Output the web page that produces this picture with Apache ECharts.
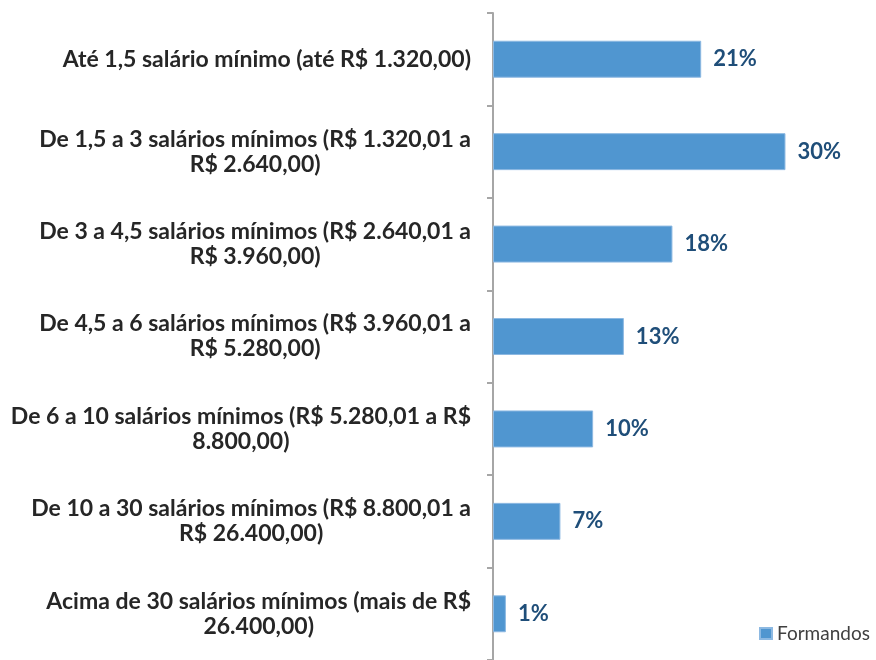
<!DOCTYPE html>
<html><head><meta charset="utf-8">
<script src="https://cdn.jsdelivr.net/npm/echarts@6/dist/echarts.min.js"></script>
<style>html,body{margin:0;padding:0;background:#fff}#c{width:876px;height:660px}</style>
</head><body><div id="c"></div>
<script>
const categoryLines = [
  ['Até 1,5 salário mínimo (até R$ 1.320,00)'],
  ['De 1,5 a 3 salários mínimos (R$ 1.320,01 a', 'R$ 2.640,00)'],
  ['De 3 a 4,5 salários mínimos (R$ 2.640,01 a', 'R$ 3.960,00)'],
  ['De 4,5 a 6 salários mínimos (R$ 3.960,01 a', 'R$ 5.280,00)'],
  ['De 6 a 10 salários mínimos (R$ 5.280,01 a R$', '8.800,00)'],
  ['De 10 a 30 salários mínimos (R$ 8.800,01 a', 'R$ 26.400,00)'],
  ['Acima de 30 salários mínimos (mais de R$', '26.400,00)']
];
const seriesName = 'Formandos';
const values = [21.0, 29.5, 18.1, 13.2, 10.1, 6.8, 1.3];
const valueLabels = ['21%', '30%', '18%', '13%', '10%', '7%', '1%'];

const categories = categoryLines.map(l => l.join('\n'));
const chart = echarts.init(document.getElementById('c'));
chart.setOption({
  animation: false,
  grid: { left: 493, top: 13, width: 347, height: 652, containLabel: false },
  xAxis: { type: 'value', min: 0, max: 35, show: false },
  yAxis: {
    type: 'category', data: categories, inverse: true,
    axisLine: { show: true, lineStyle: { color: '#a6a6a6', width: 2 } },
    axisTick: { show: true, length: 6, alignWithLabel: false, lineStyle: { color: '#a6a6a6', width: 2 } },
    axisLabel: {
      margin: 22, align: 'right',
      formatter: v => v.split('\n').map(s => '{c|' + s + '}').join('\n'),
      rich: { c: { align: 'center', fontFamily: 'Lato', fontWeight: 'bold', fontSize: 23, color: '#262626', lineHeight: 25 } }
    }
  },
  legend: {
    data: [seriesName], left: 759, top: 624, padding: 0, icon: 'rect', itemWidth: 12, itemHeight: 11,
    textStyle: { fontFamily: 'Lato', fontSize: 19, color: '#404040' }
  },
  series: [{
    name: seriesName, type: 'bar', data: values, barCategoryGap: '60%',
    itemStyle: { color: '#5096D0', borderColor: '#8DB9E2', borderWidth: 1 },
    label: {
      show: true, position: 'right', distance: 12,
      formatter: p => valueLabels[p.dataIndex],
      fontFamily: 'Lato', fontWeight: 'bold', fontSize: 22, color: '#1F4E79'
    }
  }]
});
</script></body></html>
